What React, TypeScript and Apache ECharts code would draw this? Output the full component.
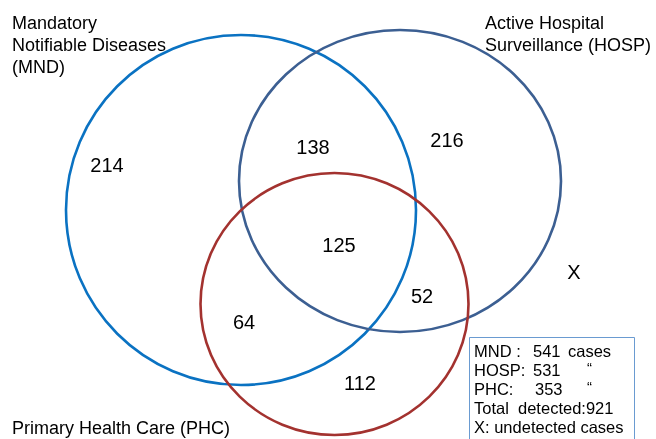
import React, { useEffect, useRef } from "react";
import * as echarts from "echarts";

// ---- data ----
const setNames = [
  "Mandatory\nNotifiable Diseases\n(MND)",
  "Active Hospital\nSurveillance (HOSP)",
  "Primary Health Care (PHC)",
];
const setCodes = ["MND", "HOSP", "PHC"];
const setCases = [541, 531, 353];
const regionNames = ["MND only", "MND & HOSP", "HOSP only", "All three", "HOSP & PHC", "MND & PHC", "PHC only"];
const regionCounts = [214, 138, 216, 125, 52, 64, 112];
const totalDetected = 921;
const undetectedLabel = "X";

// ---- layout (pixel space of a hidden 656 x 439 axis system) ----
const W = 656;
const H = 439;
const circleGeom = [
  [241, 210, 175, 175],
  [400, 181, 161, 151],
  [334.5, 304, 134, 131],
];
const circleColors = ["#0a72c2", "#3c5f92", "#a3322f"];
const regionPos = [
  [107, 165],
  [313, 147],
  [447, 140],
  [339, 245],
  [422, 296],
  [244, 322],
  [360, 383],
];
const xPos = [574, 272];

const FONT = "'Liberation Sans', Arial, Helvetica, sans-serif";

export default function App() {
  const ref = useRef<HTMLDivElement>(null);
  useEffect(() => {
    if (!ref.current) return;
    const chart = echarts.init(ref.current, null, { renderer: "svg" });

    const legendRowsY = [351, 370, 389, 408, 427];
    const legendEls: any[] = [];
    const txt = (x: number, y: number, text: string, size = 16.5) => ({
      type: "text",
      x,
      y,
      z: 20,
      style: { text, fill: "#000", font: `${size}px ${FONT}`, verticalAlign: "middle", align: "left" },
    });
    const colLabel = ["MND :", "HOSP:", "PHC:"];
    const colNumX = [533, 533, 535];
    setCases.forEach((v, i) => {
      legendEls.push(txt(474, legendRowsY[i], colLabel[i]));
      legendEls.push(txt(colNumX[i], legendRowsY[i], String(v)));
      legendEls.push(i === 0 ? txt(568, legendRowsY[i], "cases") : txt(587, legendRowsY[i] - 3, "\u201C", 15));
    });
    legendEls.push(txt(474, legendRowsY[3], `Total  detected:${totalDetected}`));
    legendEls.push(txt(474, legendRowsY[4], `${undetectedLabel}: undetected cases`));

    chart.setOption({
      animation: false,
      grid: { left: 0, right: 0, top: 0, bottom: 0 },
      xAxis: { type: "value", min: 0, max: W, show: false },
      yAxis: { type: "value", min: 0, max: H, inverse: true, show: false },
      graphic: [
        {
          type: "text",
          x: 12,
          y: 12,
          style: { text: setNames[0], fill: "#000", font: `18px ${FONT}`, lineHeight: 22, verticalAlign: "top" },
        },
        {
          type: "text",
          x: 485,
          y: 12,
          style: { text: setNames[1], fill: "#000", font: `18px ${FONT}`, lineHeight: 22, verticalAlign: "top" },
        },
        {
          type: "text",
          x: 12,
          y: 428,
          style: { text: setNames[2], fill: "#000", font: `18px ${FONT}`, verticalAlign: "middle" },
        },
        {
          type: "rect",
          z: 10,
          shape: { x: 469.5, y: 337.5, width: 165, height: 110 },
          style: { fill: "#fff", stroke: "#6a9bd1", lineWidth: 1 },
        },
        ...legendEls,
      ],
      series: [
        {
          type: "custom",
          name: "sets",
          coordinateSystem: "cartesian2d",
          clip: false,
          data: circleGeom.map((g, i) => ({ name: setCodes[i], value: g })),
          renderItem: (params: any, api: any) => {
            const c = api.coord([api.value(0), api.value(1)]);
            const s = api.size([api.value(2), api.value(3)]);
            return {
              type: "ellipse",
              shape: { cx: c[0], cy: c[1], rx: Math.abs(s[0]), ry: Math.abs(s[1]) },
              style: { fill: "none", stroke: circleColors[params.dataIndex], lineWidth: 2.6 },
            };
          },
          z: 2,
        },
        {
          type: "custom",
          name: "regions",
          coordinateSystem: "cartesian2d",
          clip: false,
          data: regionCounts.map((v, i) => ({ name: regionNames[i], value: [regionPos[i][0], regionPos[i][1], v] })),
          renderItem: (params: any, api: any) => {
            const c = api.coord([api.value(0), api.value(1)]);
            return {
              type: "text",
              x: c[0],
              y: c[1],
              style: {
                text: String(api.value(2)),
                fill: "#000",
                font: `20px ${FONT}`,
                align: "center",
                verticalAlign: "middle",
              },
            };
          },
          z: 3,
        },
        {
          type: "custom",
          name: "undetected",
          coordinateSystem: "cartesian2d",
          clip: false,
          data: [{ name: "undetected", value: [xPos[0], xPos[1]] }],
          renderItem: (params: any, api: any) => {
            const c = api.coord([api.value(0), api.value(1)]);
            return {
              type: "text",
              x: c[0],
              y: c[1],
              style: { text: undetectedLabel, fill: "#000", font: `20px ${FONT}`, align: "center", verticalAlign: "middle" },
            };
          },
          z: 3,
        },
      ],
    });
    return () => chart.dispose();
  }, []);
  return <div ref={ref} style={{ position: "fixed", left: 0, top: 0, width: W, height: H }} />;
}
